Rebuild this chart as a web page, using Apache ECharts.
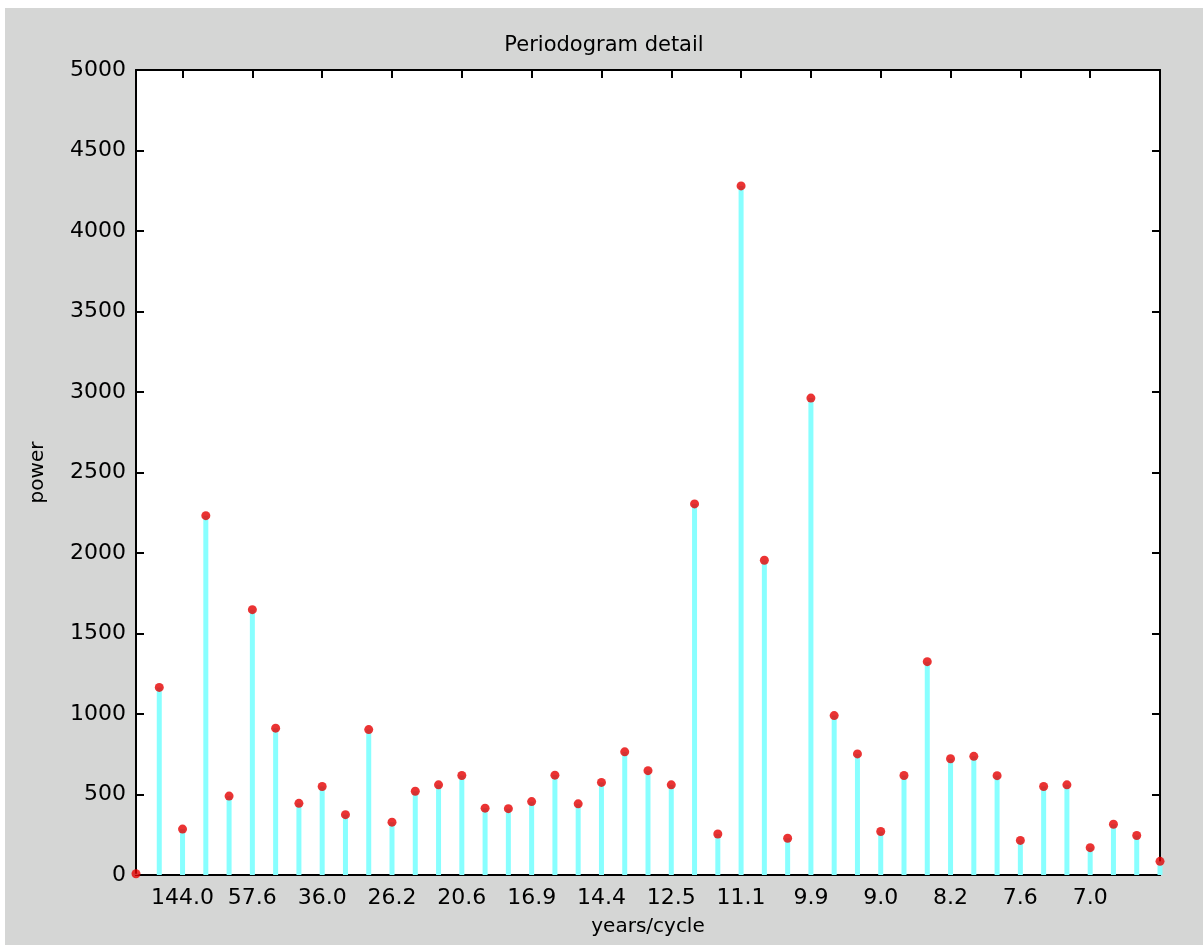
<!DOCTYPE html>
<html>
<head>
<meta charset="utf-8">
<script src="https://cdn.jsdelivr.net/npm/echarts@6/dist/echarts.min.js"></script>
<style>
  html, body { margin: 0; padding: 0; background: #fff; }
  #main { position: absolute; left: 5px; top: 8px; width: 1198px; height: 937px; }
</style>
</head>
<body>
<div id="main"></div>
<script>
// frequency index k (0..44), power of each harmonic
const freqIndex = [0,1,2,3,4,5,6,7,8,9,10,11,12,13,14,15,16,17,18,19,20,21,22,
  23,24,25,26,27,28,29,30,31,32,33,34,35,36,37,38,39,40,41,42,43,44];
const power = [8, 1165, 285, 2232, 490, 1648, 912, 445, 550, 375, 903, 328, 520,
  560, 618, 415, 412, 456, 620, 442, 575, 765, 648, 560, 2305, 255, 4280, 1955,
  228, 2962, 990, 752, 270, 618, 1325, 722, 737, 617, 215, 550, 560, 170, 315, 245, 85];
// x ticks (every third harmonic) and their years/cycle labels
const tickIndex = [2,5,8,11,14,17,20,23,26,29,32,35,38,41];
const tickLabels = ['144.0','57.6','36.0','26.2','20.6','16.9','14.4','12.5',
  '11.1','9.9','9.0','8.2','7.6','7.0'];

const chart = echarts.init(document.getElementById('main'));
const pts = freqIndex.map((k, i) => [k, power[i]]);
const font = 'DejaVu Sans';
const lineStyle = { color: '#000', width: 2 };

const option = {
  backgroundColor: '#d5d6d5',
  animation: false,
  title: {
    text: 'Periodogram detail', left: 'center', top: 22,
    textStyle: { fontFamily: font, fontSize: 21, fontWeight: 'normal', color: '#000' }
  },
  grid: { left: 131, right: 43, top: 62, bottom: 70, show: true, backgroundColor: '#fff', borderWidth: 0 },
  xAxis: [{
    type: 'value', position: 'bottom', min: 0, max: 44,
    name: 'years/cycle', nameLocation: 'middle', nameGap: 42,
    nameTextStyle: { fontFamily: font, fontSize: 20, color: '#000' },
    axisLine: { onZero: false, lineStyle: lineStyle },
    axisTick: { show: true, inside: true, length: 8, customValues: tickIndex, lineStyle: { color: '#000', width: 2 } },
    axisLabel: {
      customValues: tickIndex, margin: 12,
      formatter: v => tickLabels[tickIndex.indexOf(v)],
      fontFamily: font, fontSize: 22, color: '#000'
    },
    splitLine: { show: false }
  }, {
    type: 'value', position: 'top', min: 0, max: 44,
    axisLine: { onZero: false, lineStyle: lineStyle },
    axisTick: { show: true, inside: true, length: 8, customValues: tickIndex, lineStyle: { color: '#000', width: 2 } },
    axisLabel: { show: false },
    splitLine: { show: false }
  }],
  yAxis: [{
    type: 'value', position: 'left', min: 0, max: 5000, interval: 500,
    name: 'power', nameLocation: 'middle', nameGap: 88,
    nameTextStyle: { fontFamily: font, fontSize: 20, color: '#000' },
    axisLine: { show: true, onZero: false, lineStyle: lineStyle },
    axisTick: { show: true, inside: true, length: 8, lineStyle: { color: '#000', width: 2 } },
    axisLabel: { margin: 10, fontFamily: font, fontSize: 22, color: '#000', formatter: v => String(v) },
    splitLine: { show: false }
  }, {
    type: 'value', position: 'right', min: 0, max: 5000, interval: 500,
    axisLine: { show: true, onZero: false, lineStyle: lineStyle },
    axisTick: { show: true, inside: true, length: 8, lineStyle: { color: '#000', width: 2 } },
    axisLabel: { show: false },
    splitLine: { show: false }
  }],
  series: [{
    type: 'bar', data: pts, barWidth: 5, itemStyle: { color: '#88ffff' }, z: 1
  }, {
    type: 'scatter', data: pts, symbol: 'circle', symbolSize: 9, clip: false,
    itemStyle: { color: '#e60000' }, z: 3
  }]
};
chart.setOption(option);
</script>
</body>
</html>
